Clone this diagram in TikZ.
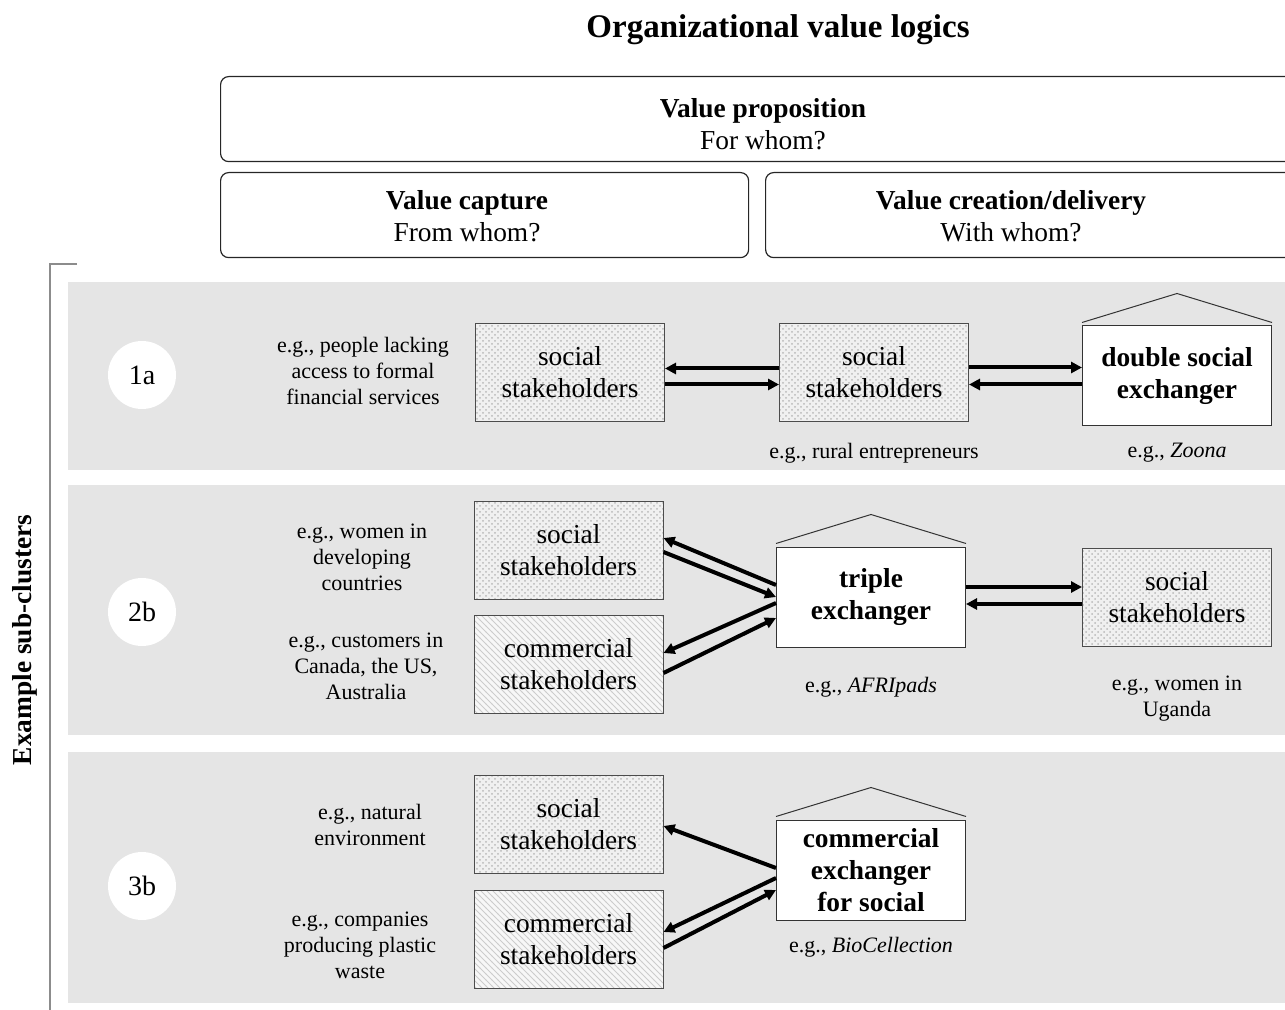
\documentclass[tikz,border=0pt]{standalone}
\usepackage{fontspec}
\setmainfont{Liberation Serif}
\usepackage{tikz}
\usetikzlibrary{positioning,patterns,arrows.meta}
\newcommand{\boxfont}{\fontsize{13.7}{16}\selectfont}
\newcommand{\notefont}{\fontsize{11}{13}\selectfont}

\begin{document}
\begin{tikzpicture}[
  x=0.5pt, y=-0.5pt,
  band/.style={draw=none, fill=gray!20},
  hdr/.style={draw=black!85, line width=0.6pt, rounded corners=4pt, anchor=north west, inner sep=0pt},
  hdrtxt/.style={align=center, font=\boxfont, text depth=0pt},
  soc/.style={draw=black!70, line width=0.5pt, preaction={fill=gray!12}, pattern=crosshatch dots,
              pattern color=gray!55, minimum width=94.5pt, minimum height=49pt, align=center, font=\boxfont},
  com/.style={soc, preaction={fill=gray!6}, pattern=north west lines, pattern color=gray!40},
  xch/.style={draw=black!80, line width=0.5pt, fill=white, minimum width=94.5pt, minimum height=50pt,
              align=center, font=\bfseries\boxfont},
  tag/.style={circle, fill=white, minimum size=34pt, inner sep=0pt, font=\fontsize{14}{16}\selectfont},
  note/.style={align=center, font=\notefont},
  arr/.style={line width=2pt, -{Triangle[length=5.5pt,width=5.5pt]}},
  roof/.style={draw=black!80, line width=0.5pt},
]
\useasboundingbox (0,0) rectangle (1285,1010);
\clip (0,0) rectangle (1285,1010);

% header
\node[font=\bfseries\fontsize{16.5}{20}\selectfont] (title) at (778,30) {Organizational value logics};
\node[hdr, minimum width=543pt, minimum height=42.5pt] (vp) at (220,76) {};
\node[hdrtxt] (vpt) at (763,123.5) {\textbf{Value proposition}\\For whom?};
\node[hdr, minimum width=264pt, minimum height=42.5pt] (vc) at (220,172) {};
\node[hdrtxt] (vct) at (467,215.5) {\textbf{Value capture}\\From whom?};
\node[hdr, minimum width=270pt, minimum height=42.5pt] (vd) at (765,172) {};
\node[hdrtxt] (vdt) at (1011,215.5) {\textbf{Value creation/delivery}\\With whom?};

% bracket and side label
\coordinate (bt) at (77,264);
\coordinate (bc) at (50,264);
\coordinate (bb) at (50,1010);
\draw[gray!90, line width=0.6pt] (bt) -- (bc) -- (bb);
\node[rotate=90, font=\bfseries\boxfont] (sub) at (25,640) {Example sub-clusters};

% bands
\fill[band] (68,282) rectangle (1285,470);
\fill[band] (68,485) rectangle (1285,735);
\fill[band] (68,752) rectangle (1285,1003);

% row 1a
\node[tag] (t1) at (142,375) {1a};
\node[note] (n1) at (363,371) {e.g., people lacking\\access to formal\\financial services};
\node[soc] (s1a) at (570,372.5) {social\\stakeholders};
\node[soc] (s1b) at (874,372.5) {social\\stakeholders};
\node[xch] (x1) at (1177,376) {double social\\exchanger};
\draw[roof] ([yshift=1.5pt]x1.north west) -- ([yshift=16pt]x1.north) -- ([yshift=1.5pt]x1.north east);
\node[note, below=7pt of s1b] (e1b) {e.g., rural entrepreneurs};
\node[note, below=5pt of x1] (e1x) {e.g., \textit{Zoona}};
\draw[arr] ([yshift=2pt]s1b.west) -- ([yshift=2pt]s1a.east);
\draw[arr] ([yshift=-6pt]s1a.east) -- ([yshift=-6pt]s1b.west);
\draw[arr] ([yshift=2.5pt]s1b.east) -- ([yshift=2.5pt]x1.west |- s1b.east);
\draw[arr] ([yshift=-6pt]x1.west |- s1b.east) -- ([yshift=-6pt]s1b.east);

% row 2b
\node[tag] (t2) at (142,612) {2b};
\node[note] (n2s) at (362,557) {e.g., women in\\developing\\countries};
\node[note] (n2c) at (366,666) {e.g., customers in\\Canada, the US,\\Australia};
\node[soc] (s2a) at (568.5,550) {social\\stakeholders};
\node[com] (c2) at (568.5,664.5) {commercial\\stakeholders};
\node[xch] (x2) at (871,597) {triple\\exchanger};
\draw[roof] ([yshift=1.5pt]x2.north west) -- ([yshift=16pt]x2.north) -- ([yshift=1.5pt]x2.north east);
\node[soc] (s2b) at (1177,597) {social\\stakeholders};
\node[note, below=11.5pt of x2] (e2x) {e.g., \textit{AFRIpads}};
\node[note, below=11pt of s2b] (e2b) {e.g., women in\\Uganda};
\draw[arr] ([yshift=6pt]x2.west) -- ([yshift=6pt]s2a.east);
\draw[arr] ([yshift=-1pt]s2a.east) -- (x2.west);
\draw[arr] ([yshift=-3pt]x2.west) -- ([yshift=5.75pt]c2.east);
\draw[arr] ([yshift=-4.25pt]c2.east) -- ([yshift=-10.5pt]x2.west);
\draw[arr] ([yshift=5pt]x2.east) -- ([yshift=5pt]s2b.west);
\draw[arr] ([yshift=-3.5pt]s2b.west) -- ([yshift=-3.5pt]x2.east);

% row 3b
\node[tag] (t3) at (142,886) {3b};
\node[note] (n3s) at (370,825) {e.g., natural\\environment};
\node[note] (n3c) at (360,945) {e.g., companies\\producing plastic\\waste};
\node[soc] (s3) at (568.5,824) {social\\stakeholders};
\node[com] (c3) at (568.5,939.5) {commercial\\stakeholders};
\node[xch] (x3) at (871,870) {commercial\\exchanger\\for social};
\draw[roof] ([yshift=1.5pt]x3.north west) -- ([yshift=16pt]x3.north) -- ([yshift=1.5pt]x3.north east);
\node[note, below=5pt of x3] (e3x) {e.g., \textit{BioCellection}};
\draw[arr] ([yshift=1pt]x3.west) -- ([yshift=-1pt]s3.east);
\draw[arr] ([yshift=-4pt]x3.west) -- ([yshift=3.75pt]c3.east);
\draw[arr] ([yshift=-4.25pt]c3.east) -- ([yshift=-10pt]x3.west);
\end{tikzpicture}
\end{document}
